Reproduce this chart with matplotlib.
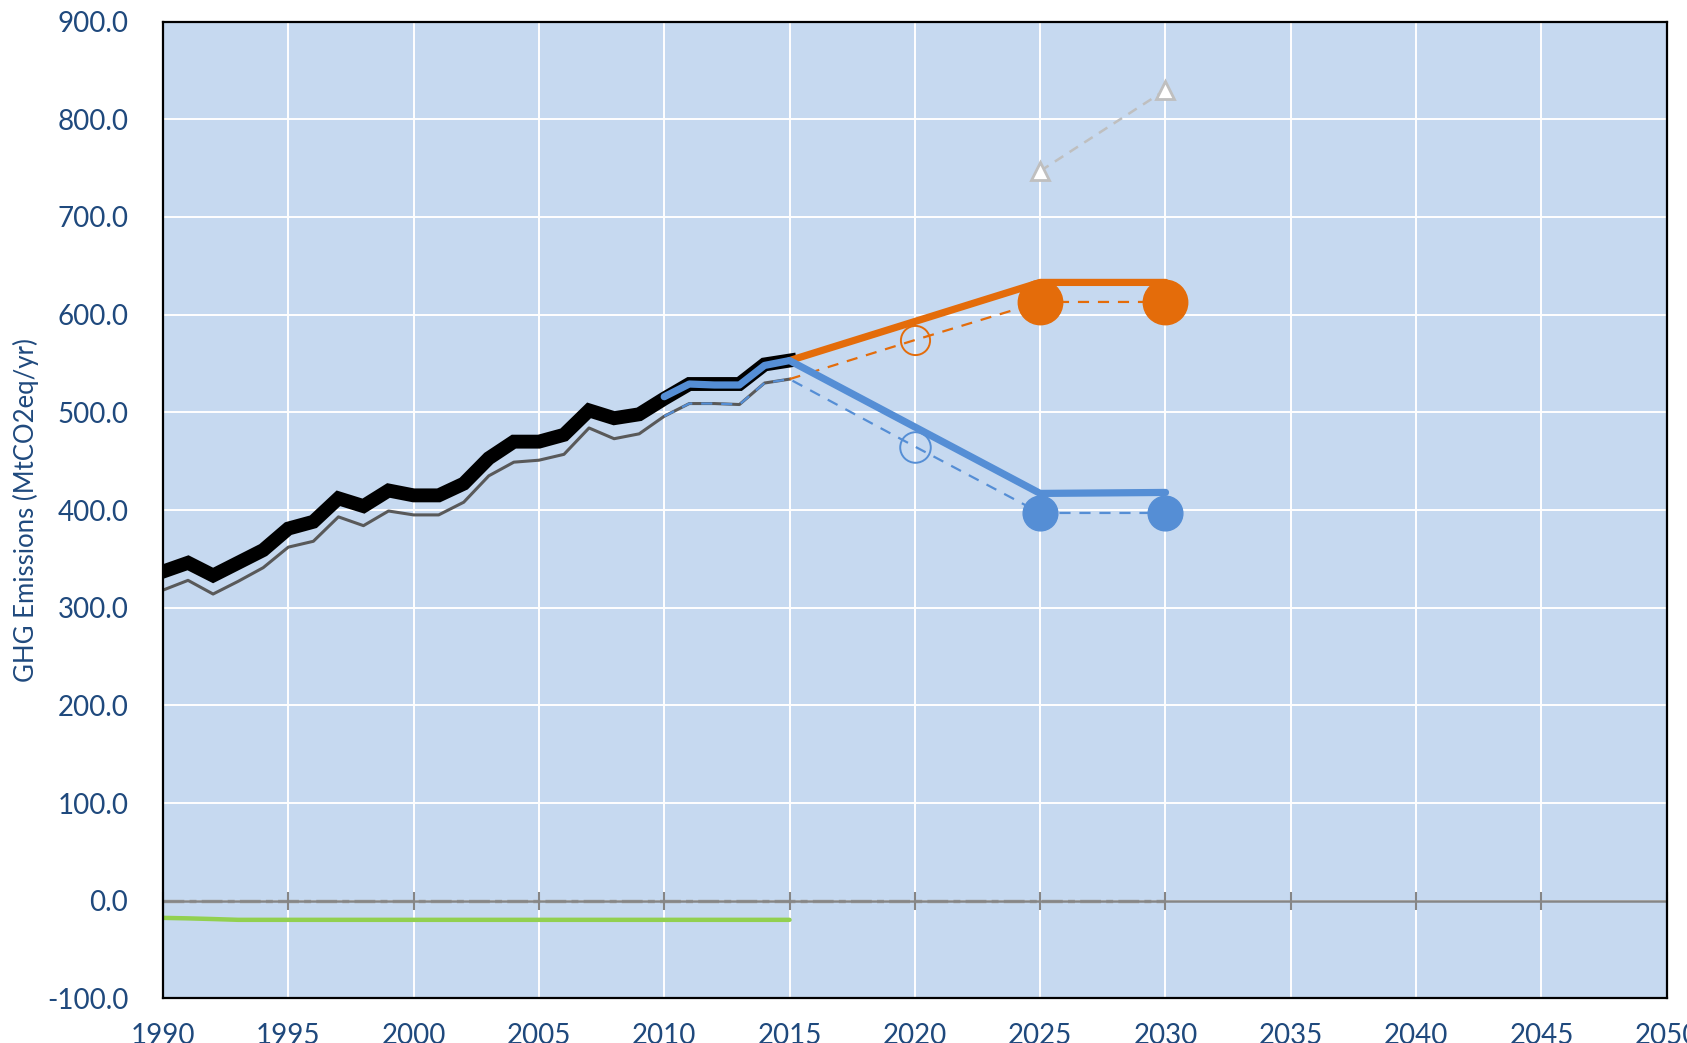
import matplotlib
matplotlib.use("Agg")
import matplotlib.pyplot as plt

# ---------------- data ----------------
hist_years = list(range(1990, 2016))
hist_thick = [337, 346, 333, 346, 359, 381, 388, 412, 404, 420, 415, 415, 427, 453,
              470, 470, 477, 502, 494, 498, 514, 529, 529, 529, 549, 553]
hist_thin = [318, 328, 314, 327, 341, 362, 368, 393, 384, 399, 395, 395, 408, 435,
             449, 451, 457, 484, 473, 478, 496, 509, 509, 508, 530, 534]

lulucf_years = list(range(1990, 2016))
lulucf = [-17.5, -18.0, -18.7] + [-19.5] * 23

zero_years = list(range(1990, 2031))
zero_vals = [0.0] * len(zero_years)

blue_solid_years = [2010, 2011, 2012, 2013, 2014, 2015, 2020, 2025, 2030]
blue_solid = [516, 529, 528, 528, 548, 553, 485, 417, 418]

blue_dash_years = [2010, 2011, 2012, 2013, 2014, 2015, 2020, 2025, 2030]
blue_dash = [496, 509, 509, 508, 530, 534, 465, 397, 397]

orange_solid_years = [2015, 2020, 2025, 2030]
orange_solid = [553, 593, 633, 633]

orange_dash_years = [2015, 2020, 2025, 2030]
orange_dash = [534, 574, 613, 613]

target_years = [2025, 2030]
blue_target = [397, 397]
orange_target = [613, 613]
mid_year = [2020]
blue_mid = [465]
orange_mid = [574]

tri_years = [2025, 2030]
tri_vals = [747, 830]

x_ticks = list(range(1990, 2051, 5))
y_ticks = list(range(-100, 901, 100))

# ---------------- style ----------------
BG = "#C6D9F0"
ORANGE = "#E46C0A"
BLUE = "#558ED5"
GREEN = "#92D050"
DKGREY = "#595959"
TXT = "#1F497D"

plt.rcParams["font.family"] = ["Lato", "DejaVu Sans"]

fig = plt.figure(figsize=(16.87, 10.43), dpi=100)
ax = fig.add_axes([0.0966, 0.0427, 0.8914, 0.9366])
ax.set_facecolor(BG)

ax.set_xlim(1990, 2050)
ax.set_ylim(-100, 900)
ax.set_xticks(x_ticks)
ax.set_yticks(y_ticks)
ax.set_xticklabels([str(v) for v in x_ticks])
ax.set_yticklabels([f"{v:.1f}" for v in y_ticks])
ax.grid(True, color="white", lw=1.4, zorder=0)
ax.set_axisbelow(True)
ax.tick_params(axis="both", length=0, labelsize=20, labelcolor=TXT)
ax.tick_params(axis="x", pad=18)
ax.tick_params(axis="y", pad=25)
for s in ax.spines.values():
    s.set_color("black")
    s.set_linewidth(1.6)
    s.set_zorder(10)

ax.set_ylabel("GHG Emissions (MtCO2eq/yr)", fontsize=18.5, color=TXT, labelpad=6)

# zero reference series and axis line with cross ticks
ax.plot(zero_years, zero_vals, color="#A6A6A6", lw=2.5, dashes=(6, 1.5, 2, 1.5), zorder=2)
ax.axhline(0, color="#868686", lw=1.8, zorder=2)
ax.plot(x_ticks, [0] * len(x_ticks), ls="none", marker="|", ms=13, mew=1.5,
        color="#868686", zorder=2, clip_on=False)

# LULUCF
ax.plot(lulucf_years, lulucf, color=GREEN, lw=3.2, solid_capstyle="round", zorder=3)

# historical
ax.plot(hist_years, hist_thin, color=DKGREY, lw=2.2, zorder=3)
ax.plot(hist_years, hist_thick, color="black", lw=10, solid_joinstyle="miter", zorder=4)

# dashed projections
ax.plot(blue_dash_years, blue_dash, color=BLUE, lw=1.6, dashes=(5, 4), zorder=5)
ax.plot(orange_dash_years, orange_dash, color=ORANGE, lw=1.6, dashes=(5, 4), zorder=5)

# solid projections
ax.plot(orange_solid_years, orange_solid, color=ORANGE, lw=5.2, solid_capstyle="round", zorder=6)
ax.plot(blue_solid_years, blue_solid, color=BLUE, lw=5.2, solid_capstyle="round", zorder=6)

# markers
ax.plot(mid_year, blue_mid, ls="none", marker="o", ms=22, mfc="none", mec=BLUE, mew=1.4, zorder=7)
ax.plot(mid_year, orange_mid, ls="none", marker="o", ms=21, mfc="none", mec=ORANGE, mew=1.4, zorder=7)
ax.plot(target_years, blue_target, ls="none", marker="o", ms=25, color=BLUE, zorder=7)
ax.plot(target_years, orange_target, ls="none", marker="o", ms=32, color=ORANGE, zorder=7)

# triangles
ax.plot(tri_years, tri_vals, color="#BFBFBF", lw=1.8, dashes=(4, 3), zorder=5)
ax.plot(tri_years, tri_vals, ls="none", marker="^", ms=13, mfc="white", mec="#BFBFBF",
        mew=2, zorder=7)

fig.savefig("out.png", dpi=100)
